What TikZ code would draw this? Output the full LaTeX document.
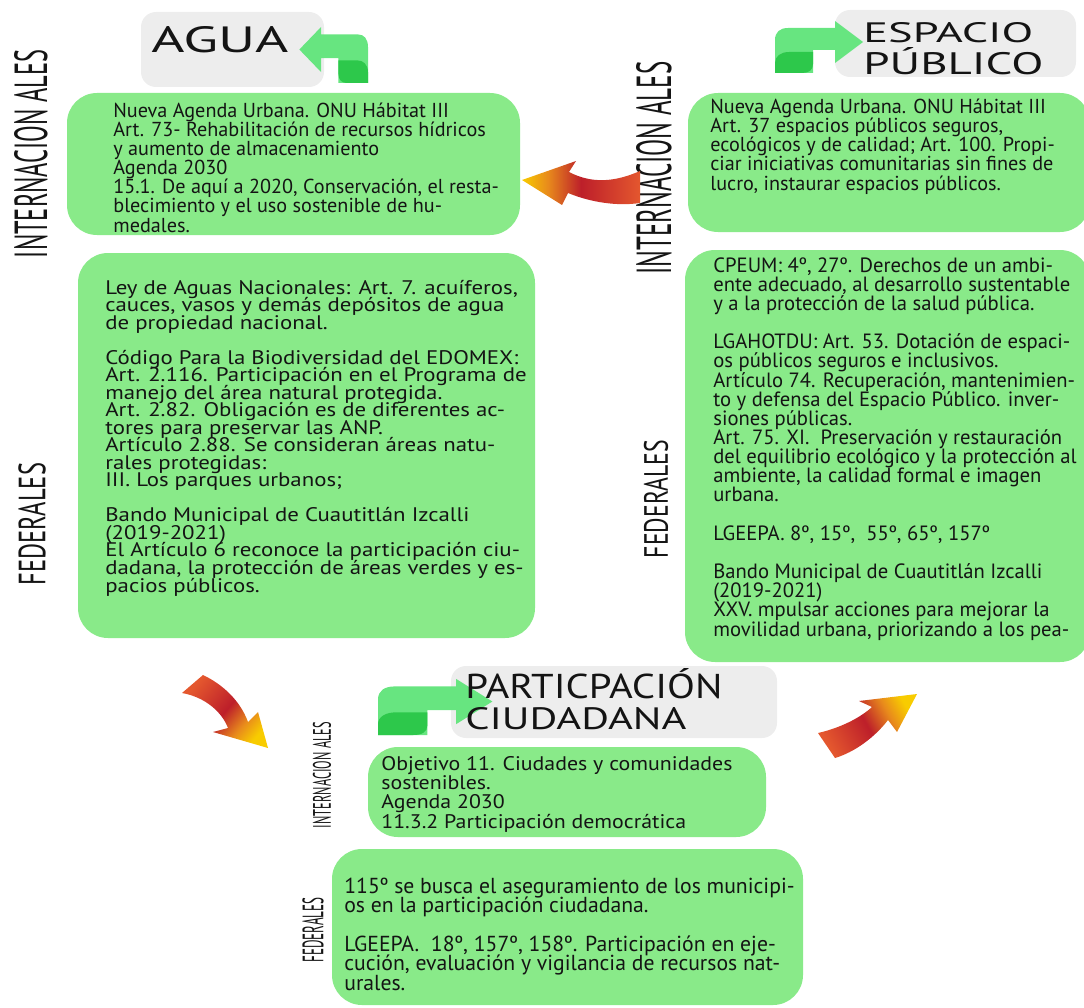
\documentclass[tikz,border=0pt]{standalone}
\usepackage{fontspec}
\setmainfont{PT Sans}
\usepackage{graphicx}
\usepackage{xcolor}

\definecolor{boxgreen}{HTML}{89EA89}
\definecolor{titlegray}{HTML}{EDEDED}
\definecolor{leaflight}{HTML}{67E580}
\definecolor{leafdark}{HTML}{2DC84B}
\definecolor{textblack}{HTML}{141414}
\definecolor{fireyellow}{HTML}{F8CC00}
\definecolor{fireorange}{HTML}{E88A1C}
\definecolor{firered}{HTML}{BD1F2A}
\definecolor{firetail}{HTML}{E4572E}

\newlength{\pixel}
\setlength{\pixel}{0.02cm}

\pgfdeclarehorizontalshading{firearrow}{100bp}{color(0bp)=(fireyellow); color(25bp)=(fireyellow);
  color(36bp)=(fireorange); color(50bp)=(firered); color(75bp)=(firetail); color(100bp)=(firetail)}

\begin{document}
\begin{tikzpicture}[x=0.02cm,y=-0.02cm,
    infobox/.style={fill=boxgreen, rounded corners=0.6cm},
    titlebox/.style={fill=titlegray, rounded corners=0.3cm},
    boxtext/.style={anchor=base west, align=left, inner sep=0pt, text=textblack},
    sidelabel/.style={rotate=90, inner sep=0pt, text=textblack},
    headtext/.style={anchor=west, inner sep=0pt, text=textblack},
    hotarrow/.style={shading=firearrow}]

    \useasboundingbox (0,0) rectangle (1084,1007);

    % bent arrow, pointing right, origin at the lower left corner
    \def\bentbody{(0,0) -- (0,-33) .. controls (0,-41) and (5,-45) .. (13,-45) -- (60,-45)
      -- (60,-52) -- (88,-31) -- (60,-10) -- (60,-23) -- (38,-23) -- (38,0) -- cycle}
    \def\bentleaf{(0,0) -- (0,-10) .. controls (0,-17) and (6,-21) .. (14,-21) -- (38,-21)
      -- (38,-9) .. controls (38,-3) and (34,0) .. (27,0) -- cycle}
    \def\fixskip{\lineskiplimit=-\maxdimen}

    % Agua (text nodes sit on the baseline of their last line)
    \fill[titlebox] (141,12) rectangle (324,87);
    \begin{scope}[shift={(368,83)},xscale=-0.78,yscale=1.08]
      \fill[leaflight] \bentbody;
      \fill[leafdark] \bentleaf;
    \end{scope}
    \node[headtext] (aguatitle) at (151,40) {\resizebox{137\pixel}{26\pixel}{AGUA}};

    \fill[infobox] (67,93) rectangle (520,235);
    \node[boxtext,font=\fontsize{11.5}{10.9}\selectfont\fixskip] (aguaint) at (113,232)
      {Nueva Agenda Urbana. ONU Hábitat III\\
       Art. 73- Rehabilitación de recursos hídricos\\
       y aumento de almacenamiento\\
       Agenda 2030\\
       15.1. De aquí a 2020, Conservación, el resta-\\
       blecimiento y el uso sostenible de hu-\\
       medales.};

    \fill[infobox] (78,253) rectangle (535,638);
    \node[boxtext,transform shape,yscale=0.86,font=\fontsize{13}{11.6}\selectfont\fixskip] (aguafed) at (105,592)
      {Ley de Aguas Nacionales: Art. 7. acuíferos,\\
       cauces, vasos y demás depósitos de agua\\
       de propiedad nacional.\\
       \mbox{}\\
       Código Para la Biodiversidad del EDOMEX:\\
       Art. 2.116. Participación en el Programa de\\
       manejo del área natural protegida.\\
       Art. 2.82. Obligación es de diferentes ac-\\
       tores para preservar las ANP.\\
       Artículo 2.88. Se consideran áreas natu-\\
       rales protegidas:\\
       III. Los parques urbanos;\\
       \mbox{}\\
       Bando Municipal de Cuautitlán Izcalli\\
       (2019-2021)\\
       El Artículo 6 reconoce la participación ciu-\\
       dadana, la protección de áreas verdes y es-\\
       pacios públicos.};

    \node[sidelabel] (aguaintlabel) at (31,154) {\resizebox{208\pixel}{33\pixel}{INTERNACION ALES}};
    \node[sidelabel] (aguafedlabel) at (32,524) {\resizebox{122\pixel}{27\pixel}{FEDERALES}};

    % Espacio publico
    \fill[titlebox] (835,10) rectangle (1076,77);
    \begin{scope}[shift={(775,73)}]
      \fill[leaflight] \bentbody;
      \fill[leafdark] \bentleaf;
    \end{scope}
    \node[headtext] (esptitle) at (863,33) {\resizebox{170\pixel}{20\pixel}{ESPACIO}};
    \node[headtext] (esptitleb) at (863,61) {\resizebox{180\pixel}{27\pixel}{PÚBLICO}};

    \fill[infobox] (688,93) rectangle (1090,232);
    \node[boxtext,font=\fontsize{11.5}{10.9}\selectfont\fixskip] (espint) at (710,190)
      {Nueva Agenda Urbana. ONU Hábitat III\\
       Art. 37 espacios públicos seguros,\\
       ecológicos y de calidad; Art. 100. Propi-\\
       ciar iniciativas comunitarias sin fines de\\
       lucro, instaurar espacios públicos.};

    \fill[infobox] (685,250) rectangle (1090,662);
    \node[boxtext,font=\fontsize{11.75}{10.9}\selectfont\fixskip] (espfed) at (713,636)
      {CPEUM: 4º, 27º. Derechos de un ambi-\\
       ente adecuado, al desarrollo sustentable\\
       y a la protección de la salud pública.\\
       \mbox{}\\
       LGAHOTDU: Art. 53. Dotación de espaci-\\
       os públicos seguros e inclusivos.\\
       Artículo 74. Recuperación, mantenimien-\\
       to y defensa del Espacio Público. inver-\\
       siones públicas.\\
       Art. 75. XI.~ Preservación y restauración\\
       del equilibrio ecológico y la protección al\\
       ambiente, la calidad formal e imagen\\
       urbana.\\
       \mbox{}\\
       LGEEPA. 8º, 15º,~ 55º, 65º, 157º\\
       \mbox{}\\
       Bando Municipal de Cuautitlán Izcalli\\
       (2019-2021)\\
       XXV. mpulsar acciones para mejorar la\\
       movilidad urbana, priorizando a los pea-};

    \node[sidelabel] (espintlabel) at (654,168) {\resizebox{213\pixel}{35\pixel}{INTERNACION ALES}};
    \node[sidelabel] (espfedlabel) at (656,499) {\resizebox{118\pixel}{24\pixel}{FEDERALES}};

    % Participacion ciudadana
    \fill[titlebox] (451,666) rectangle (777,738);
    \begin{scope}[shift={(378,735)},xscale=1.3,yscale=1.08]
      \fill[leaflight] \bentbody;
      \fill[leafdark] \bentleaf;
    \end{scope}
    \node[headtext] (parttitle) at (465,684) {\resizebox{257\pixel}{30\pixel}{PARTICPACIÓN}};
    \node[headtext] (parttitleb) at (465,719) {\resizebox{221\pixel}{22\pixel}{CIUDADANA}};

    \fill[infobox] (368,747) rectangle (766,837);
    \node[boxtext,transform shape,yscale=0.9,font=\fontsize{12.45}{12.1}\selectfont\fixskip] (partint) at (381,828)
      {Objetivo 11. Ciudades y comunidades\\
       sostenibles.\\
       Agenda 2030\\
       11.3.2 Participación democrática};

    \fill[infobox] (332,849) rectangle (803,1005);
    \node[boxtext,font=\fontsize{12.35}{11}\selectfont\fixskip] (partfed) at (344,990)
      {115º se busca el aseguramiento de los municipi-\\
       os en la participación ciudadana.\\
       \mbox{}\\
       LGEEPA.~ 18º, 157º, 158º. Participación en eje-\\
       cución, evaluación y vigilancia de recursos nat-\\
       urales.};

    \node[sidelabel] (partintlabel) at (322,775) {\resizebox{106\pixel}{18\pixel}{INTERNACION ALES}};
    \node[sidelabel] (partfedlabel) at (313,930) {\resizebox{65\pixel}{21\pixel}{FEDERALES}};

    % Fire arrows
    \shade[hotarrow,shading angle=0] (522,180) -- (576,161) -- (569,172)
      .. controls (592,184) and (615,182) .. (640,171) -- (640,203)
      .. controls (612,207) and (585,200) .. (568,193) -- (562,205) -- cycle;
    \shade[hotarrow,shading angle=140] (182,693) -- (203,675)
      .. controls (222,684) and (240,700) .. (248,722) -- (258,712) -- (268,748)
      -- (213,732) -- (228,728) .. controls (222,712) and (205,697) .. (182,693) -- cycle;
    \shade[hotarrow,shading angle=209] (818,733)
      .. controls (840,728) and (860,718) .. (872,707) -- (859,701) -- (917,694)
      -- (897,732) -- (888,720) .. controls (875,737) and (855,752) .. (835,758) -- cycle;
\end{tikzpicture}
\end{document}
